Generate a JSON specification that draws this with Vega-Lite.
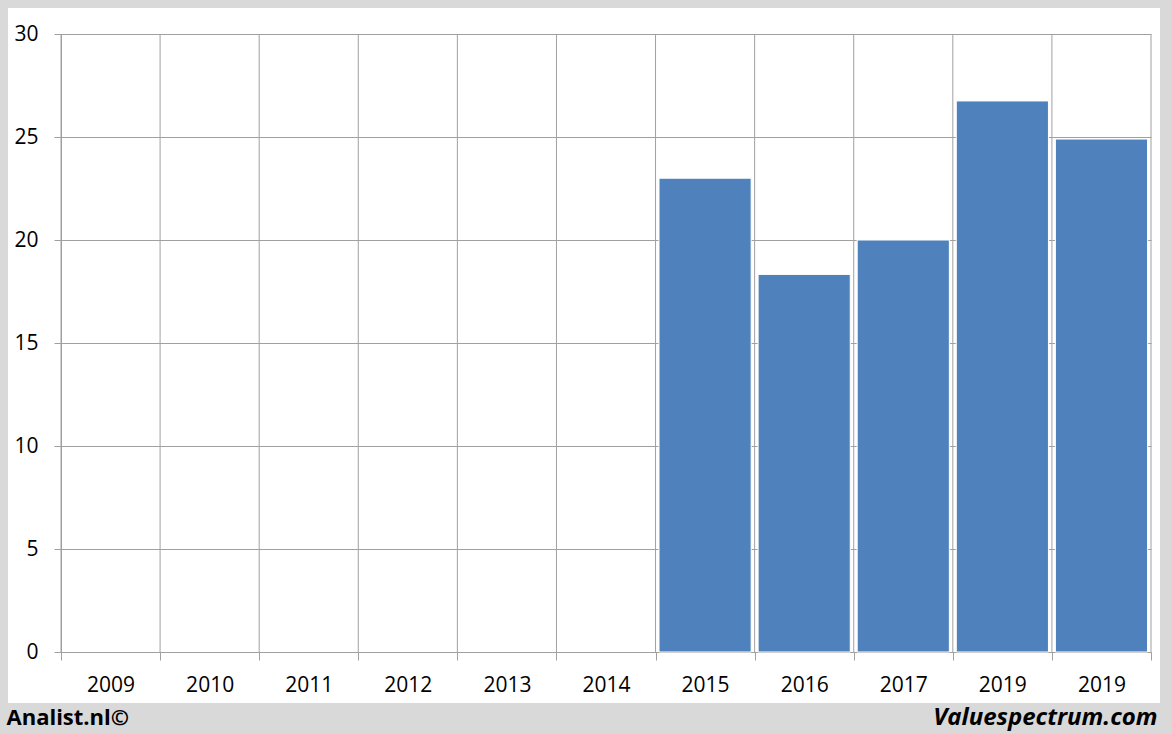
{
  "$schema": "https://vega.github.io/schema/vega-lite/v6.json",
  "width": 1152,
  "height": 695,
  "autosize": "none",
  "padding": {"left": 8, "top": 8, "right": 12, "bottom": 31},
  "background": "#d9d9d9",
  "config": {
    "view": {"fill": "white", "stroke": null},
    "font": "Open Sans"
  },
  "data": {
    "values": [
      {"period": "2009", "value": null},
      {"period": "2010", "value": null},
      {"period": "2011", "value": null},
      {"period": "2012", "value": null},
      {"period": "2013", "value": null},
      {"period": "2014", "value": null},
      {"period": "2015", "value": 23.0},
      {"period": "2016", "value": 18.33},
      {"period": "2017", "value": 20.0},
      {"period": "2019a", "value": 26.75},
      {"period": "2019b", "value": 24.9}
    ]
  },
  "layer": [
    {
      "mark": {"type": "rule", "color": "#a0a0a0", "strokeWidth": 1},
      "encoding": {
        "x": {
          "field": "period",
          "type": "ordinal",
          "bandPosition": 0,
          "scale": {"type": "band", "range": [53, 1143], "paddingInner": 0, "paddingOuter": 0},
          "axis": {
            "title": "Analist.nl©",
            "labelExpr": "substring(datum.label, 0, 4)",
            "labelAngle": 0,
            "labelFontSize": 21,
            "labelColor": "#000000",
            "labelPadding": 14,
            "tickBand": "extent",
            "tickSize": 8,
            "tickColor": "#a0a0a0",
            "domainColor": "#a0a0a0",
            "grid": false,
            "offset": -51,
            "titleX": -2,
            "titleY": 72,
            "titleAnchor": "start",
            "titleAlign": "left",
            "titleBaseline": "alphabetic",
            "titleFontSize": 22,
            "titleFontWeight": "bold",
            "titleColor": "#000000"
          }
        },
        "y": {
          "datum": 0,
          "type": "quantitative",
          "scale": {"domain": [0, 30], "range": [644, 26], "nice": false, "zero": true},
          "axis": {
            "title": "Valuespectrum.com",
            "values": [0, 5, 10, 15, 20, 25, 30],
            "grid": true,
            "gridColor": "#a0a0a0",
            "tickSize": 7,
            "tickColor": "#a0a0a0",
            "domainColor": "#a0a0a0",
            "labelFontSize": 21,
            "labelColor": "#000000",
            "labelPadding": 16,
            "offset": -53,
            "titleAngle": 0,
            "titleX": 1096,
            "titleY": 716,
            "titleAlign": "right",
            "titleAnchor": null,
            "titleBaseline": "alphabetic",
            "titleFontSize": 24,
            "titleFontWeight": "bold",
            "titleFontStyle": "italic",
            "titleColor": "#000000"
          }
        },
        "y2": {"datum": 30}
      }
    },
    {
      "transform": [{"filter": "datum.period == '2019b'"}],
      "mark": {"type": "rule", "color": "#a0a0a0", "strokeWidth": 1},
      "encoding": {
        "x": {"field": "period", "type": "ordinal", "bandPosition": 1},
        "y": {"datum": 0, "type": "quantitative"},
        "y2": {"datum": 30}
      }
    },
    {
      "transform": [{"filter": "datum.value != null"}],
      "mark": {"type": "bar", "width": {"band": 0.93}, "color": "#4f81bd", "stroke": "#ffffff", "strokeWidth": 1},
      "encoding": {
        "x": {"field": "period", "type": "ordinal"},
        "y": {"field": "value", "type": "quantitative"}
      }
    }
  ]
}
